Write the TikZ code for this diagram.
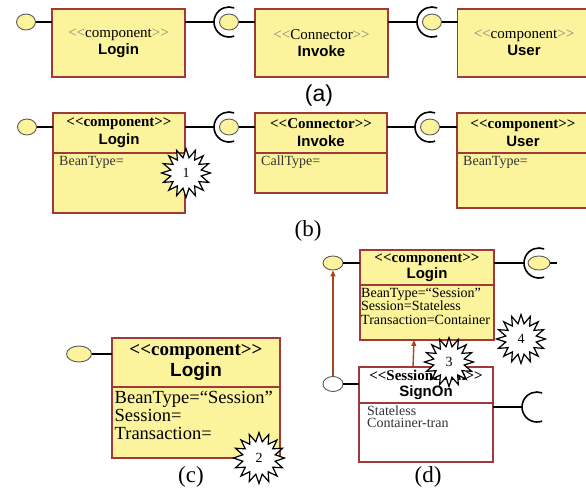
\documentclass[tikz,border=0pt]{standalone}
\usepackage{fontspec}
\setmainfont{Liberation Serif}
\setsansfont{Liberation Sans}
\usetikzlibrary{shapes.geometric,shapes.symbols,arrows.meta,positioning}
\usepackage{xcolor}
\definecolor{compfill}{HTML}{FCF49C}
\definecolor{compline}{HTML}{A0393A}
\definecolor{depbrown}{HTML}{A8441E}
\newcommand{\stereo}[1]{<{}<#1>{}>}
\newcommand{\stereolight}[1]{\textcolor{gray}{<{}<}#1\textcolor{gray}{>{}>}}
\newcommand{\compname}[1]{{\sffamily\bfseries #1}}
\newcommand{\reqsocket}[1]{\draw[sock] ([shift={(70:15)}]#1) arc (70:290:15);}

\begin{document}
\begin{tikzpicture}[
    x=1pt, y=-1pt,
    comp/.style={draw=compline, fill=compfill, line width=1.1pt, inner sep=0pt, outer sep=0pt, align=center},
    compA/.style={comp, minimum width=133pt, minimum height=68pt, font=\fontsize{15}{17}\selectfont},
    sessbox/.style={comp, fill=white},
    ball/.style={ellipse, draw=black!65, fill=compfill, line width=0.9pt, minimum width=19pt, minimum height=16pt, inner sep=0pt},
    provided/.style={line width=2pt},
    required/.style={line width=1.2pt},
    sock/.style={line width=1.6pt},
    attr/.style={anchor=base west, inner sep=0pt, align=left, text=black!80},
    burst/.style={starburst, starburst points=16, starburst point height=9pt, random starburst=0, draw, fill=white, line width=1.2pt, minimum width=49pt, minimum height=49pt, inner sep=0pt, font=\fontsize{14}{14}\selectfont},
    panel/.style={inner sep=0pt, font=\fontsize{23}{23}\selectfont},
    dep/.style={draw=depbrown, line width=1.4pt, -{Triangle[length=6pt,width=5pt]}}
]
\clip (0,0) rectangle (586,490);

% (a) plain components
\node[ball] (ballA1) at (26,22) {};
\node[compA] (loginA) at (118.5,43) {\stereolight{component}\\\compname{Login}};
\node[ball] (ballA2) at (229,22) {};
\node[compA] (invokeA) at (321.5,43) {\stereolight{Connector}\\\compname{Invoke}};
\node[ball] (ballA3) at (432,22) {};
\node[compA] (userA) at (524,43) {\stereolight{component}\\\compname{User}};

\draw[provided] (ballA1) -- (loginA.west |- ballA1);
\draw[required] (loginA.east |- ballA2) -- ([xshift=-15]ballA2.center);
\reqsocket{ballA2.center}
\draw[provided] (ballA2) -- (invokeA.west |- ballA2);
\draw[required] (invokeA.east |- ballA3) -- ([xshift=-15]ballA3.center);
\reqsocket{ballA3.center}
\draw[provided] (ballA3) -- (userA.west |- ballA3);

\node[panel, font=\sffamily\fontsize{23}{23}\selectfont] (capA) at (319,96) {(a)};

% (b) components with attribute compartment
\begin{scope}[font=\fontsize{15}{18}\selectfont]
\node[ball] (ballB1) at (27,127) {};
\node[comp, minimum width=132pt, minimum height=40pt] (loginBt) at (119,133) {\textbf{\stereo{component}}\\\compname{Login}};
\node[comp, minimum width=132pt, minimum height=60pt, below=0pt of loginBt] (loginBb) {};
\node[ball] (ballB2) at (229,127) {};
\node[comp, minimum width=132pt, minimum height=40pt] (invokeBt) at (321,133) {\textbf{\stereo{Connector}}\\\compname{Invoke}};
\node[comp, minimum width=132pt, minimum height=40pt, below=0pt of invokeBt] (invokeBb) {};
\node[ball] (ballB3) at (430,127) {};
\node[comp, minimum width=132pt, minimum height=40pt] (userBt) at (523,133) {\textbf{\stereo{component}}\\\compname{User}};
\node[comp, minimum width=132pt, minimum height=55pt, below=0pt of userBt] (userBb) {};
\end{scope}

\begin{scope}[font=\fontsize{14}{16}\selectfont]
\node[attr] (loginBa) at ([shift={(6,12)}]loginBb.north west) {BeanType=};
\node[attr] (invokeBa) at ([shift={(6,12)}]invokeBb.north west) {CallType=};
\node[attr] (userBa) at ([shift={(6,12)}]userBb.north west) {BeanType=};
\end{scope}

\draw[provided] (ballB1) -- (loginBt.west |- ballB1);
\draw[required] (loginBt.east |- ballB2) -- ([xshift=-15]ballB2.center);
\reqsocket{ballB2.center}
\draw[provided] (ballB2) -- (invokeBt.west |- ballB2);
\draw[required] (invokeBt.east |- ballB3) -- ([xshift=-15]ballB3.center);
\reqsocket{ballB3.center}
\draw[provided] (ballB3) -- (userBt.west |- ballB3);

\node[burst] (note1) at (186,173) {1};
\node[panel] (capB) at (308,231) {(b)};

% (c) bean type set (base anchor sits on the last line)
\node[ball, minimum width=25pt, minimum height=16pt] (ballC) at (79,354) {};
\node[comp, minimum width=168pt, minimum height=49pt, font=\fontsize{19}{21}\selectfont] (loginCt) at (196,362.5) {\textbf{\stereo{component}}\\\compname{Login}};
\node[comp, minimum width=168pt, minimum height=71pt, below=0pt of loginCt] (loginCb) {};
\node[attr, text=black, font=\fontsize{18.5}{18}\selectfont] (loginCa) at ([shift={(2.5,52)}]loginCb.north west) {BeanType=“Session”\\Session=\\Transaction=};
\draw[provided] (ballC) -- (loginCt.west |- ballC);

\node[burst, minimum width=51pt, minimum height=51pt] (note2) at (259,458) {2};
\node[panel] (capC) at (191,477) {(c)};

% (d) session bean refinement
\node[ball, minimum width=20pt, minimum height=14pt] (ballD1) at (333,263) {};
\node[comp, minimum width=134pt, minimum height=35pt, font=\fontsize{15}{16}\selectfont] (loginDt) at (427,267.5) {\textbf{\stereo{component}}\\\compname{Login}};
\node[comp, minimum width=134pt, minimum height=55pt, below=0pt of loginDt] (loginDb) {};
\node[attr, text=black, font=\fontsize{14}{13.5}\selectfont] (loginDa) at ([shift={(1,39)}]loginDb.north west) {BeanType=“Session”\\Session=Stateless\\Transaction=Container};
\node[ball, minimum width=22pt, minimum height=14pt] (ballD2) at (539,263) {};
\coordinate (stubD) at (557,263);

\node[ball, fill=white, minimum width=20pt, minimum height=15pt] (ballD3) at (333,384) {};
\node[sessbox, minimum width=134pt, minimum height=36pt, font=\fontsize{15}{16}\selectfont] (signOnT) at (426,385) {\textbf{\stereo{SessionBean}}\\\compname{SignOn}};
\node[sessbox, minimum width=134pt, minimum height=59pt, below=0pt of signOnT] (signOnB) {};
\node[attr, font=\fontsize{14}{12.5}\selectfont] (signOnA) at ([shift={(8,24.5)}]signOnB.north west) {Stateless\\Container-tran};
\coordinate (reqD) at (537,407);

\draw[provided] (ballD1) -- (loginDt.west |- ballD1);
\draw[required] (loginDt.east |- ballD2) -- ([xshift=-15]ballD2.center);
\reqsocket{ballD2.center}
\draw[provided] (ballD2) -- (stubD);
\draw[provided] (ballD3) -- (signOnT.west |- ballD3);
\draw[required] (signOnB.east |- reqD) -- ([xshift=-15]reqD);
\reqsocket{reqD}

\draw[dep] (ballD3.north) -- (ballD1.south);
\draw[dep] ([xshift=-13]signOnT.north) -- ([xshift=-13]loginDb.south);

\node[burst] (note3) at (449,362) {3};
\node[burst] (note4) at (521,339) {4};
\node[panel] (capD) at (428,477) {(d)};

\end{tikzpicture}
\end{document}
